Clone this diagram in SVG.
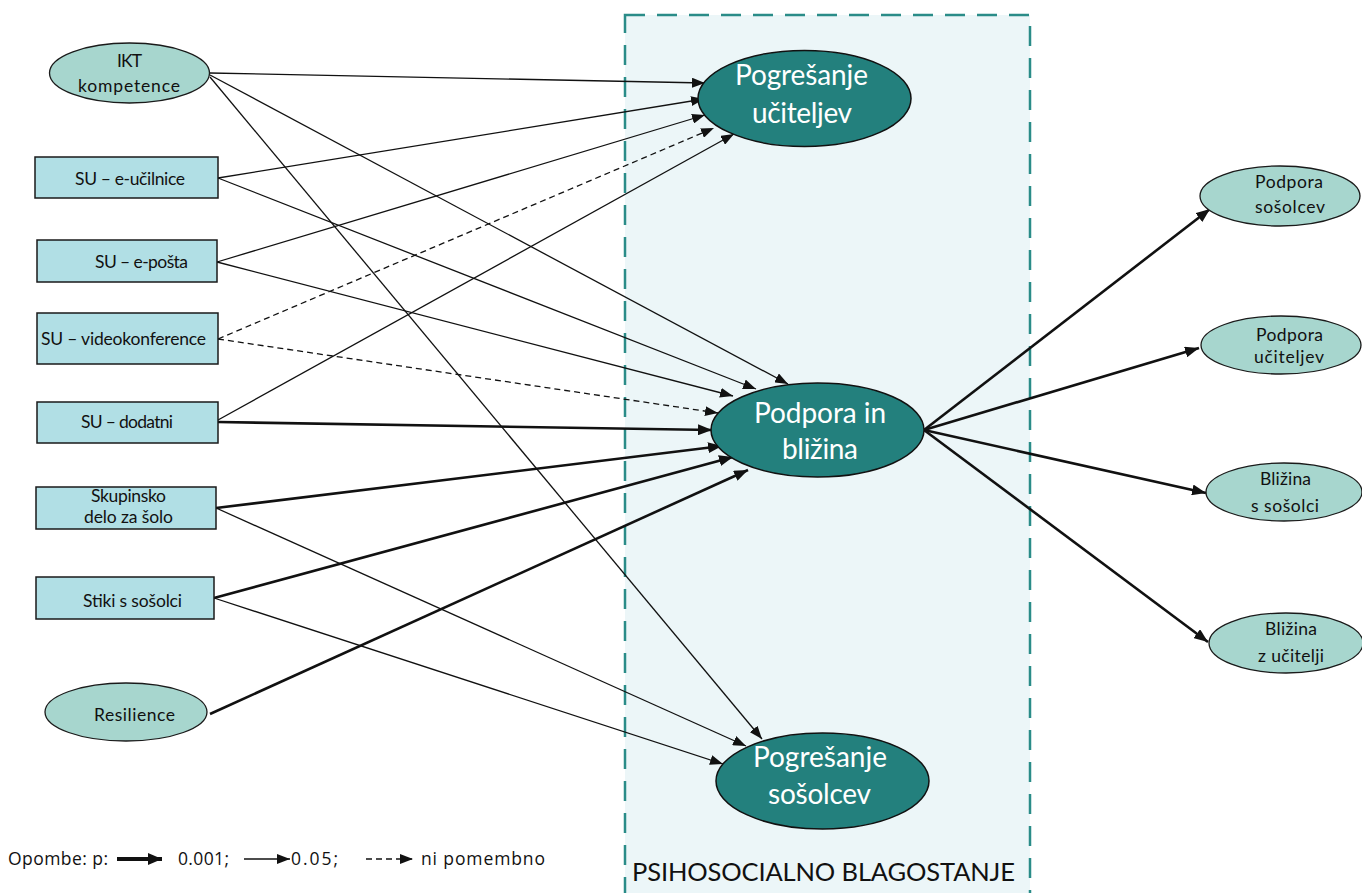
<svg xmlns="http://www.w3.org/2000/svg" width="1362" height="893" viewBox="0 0 1362 893">
<defs>
<style>
.bg{fill:#fff}
.cont{fill:#ECF6F8;stroke:#2A8C88;stroke-width:2.5;stroke-dasharray:20 12}
.lt{fill:#A7D6CE;stroke:#1a1a1a;stroke-width:1.3}
.bx{fill:#B1DFE5;stroke:#1a1a1a;stroke-width:1.5}
.dk{fill:#23807D;stroke:#111;stroke-width:1.5}
.t{font-family:Lato,"Open Sans",sans-serif;font-size:17.5px;fill:#111;text-anchor:middle}
.tw{font-family:Lato,"Open Sans",sans-serif;font-size:28px;fill:#fff;text-anchor:middle}
.tc{font-family:Lato,"Open Sans",sans-serif;font-size:25.5px;fill:#111}
.tl{font-family:"Open Sans","Liberation Sans",sans-serif;font-size:17.5px;fill:#111}
.thin{stroke:#111;stroke-width:1.3;fill:none;marker-end:url(#ah)}
.thick{stroke:#111;stroke-width:2.6;fill:none;marker-end:url(#ahb)}
.lthick{stroke:#111;stroke-width:4;fill:none;marker-end:url(#ahl)}
.dash{stroke:#111;stroke-width:1.3;fill:none;stroke-dasharray:6 4;marker-end:url(#ah)}
</style>
<marker id="ah" markerUnits="userSpaceOnUse" markerWidth="13" markerHeight="10" refX="13" refY="5" orient="auto"><path d="M0,0 L13,5 L0,10 z" fill="#111"/></marker>
<marker id="ahb" markerUnits="userSpaceOnUse" markerWidth="14" markerHeight="11" refX="14" refY="5.5" orient="auto"><path d="M0,0 L14,5.5 L0,11 z" fill="#111"/></marker>
<marker id="ahl" markerUnits="userSpaceOnUse" markerWidth="14" markerHeight="12" refX="14" refY="6" orient="auto"><path d="M0,0 L14,6 L0,12 z" fill="#111"/></marker>
</defs>
<rect class="bg" x="0" y="0" width="1362" height="893"/>
<g id="container">
<rect class="cont" x="625" y="15" width="405" height="900"/>
<text class="tc" x="632" y="881" textLength="383">PSIHOSOCIALNO BLAGOSTANJE</text>
</g>
<g id="connectors">
<line class="thin" x1="210" y1="73" x2="705" y2="83"/>
<line class="thin" x1="210" y1="75" x2="788" y2="384"/>
<line class="thin" x1="210" y1="77" x2="762" y2="739"/>
<line class="thin" x1="218" y1="178" x2="704" y2="99"/>
<line class="thin" x1="218" y1="178" x2="756" y2="389"/>
<line class="thin" x1="217" y1="262" x2="705" y2="115"/>
<line class="thin" x1="217" y1="262" x2="733" y2="396"/>
<line class="dash" x1="218" y1="339" x2="714" y2="128"/>
<line class="dash" x1="218" y1="339" x2="718" y2="413"/>
<line class="thin" x1="218" y1="420" x2="734" y2="134"/>
<line class="thick" x1="218" y1="422" x2="712" y2="430"/>
<line class="thick" x1="216" y1="508" x2="722" y2="446"/>
<line class="thin" x1="216" y1="508" x2="746" y2="746"/>
<line class="thick" x1="214" y1="598" x2="733" y2="457"/>
<line class="thin" x1="214" y1="598" x2="723" y2="764"/>
<line class="thick" x1="210" y1="714" x2="748" y2="470"/>
<line class="thick" x1="924" y1="430" x2="1210" y2="209"/>
<line class="thick" x1="924" y1="430" x2="1199" y2="348"/>
<line class="thick" x1="924" y1="430" x2="1206" y2="493"/>
<line class="thick" x1="924" y1="430" x2="1208" y2="642"/>
</g>
<g id="ikt"><ellipse class="lt" cx="129.5" cy="73" rx="80" ry="30"/><text class="t" x="129.5" y="67" textLength="25">IKT</text><text class="t" x="129" y="92" textLength="102">kompetence</text></g>
<g id="su-eucilnice"><rect class="bx" x="35" y="157" width="183" height="41"/><text class="t" x="130" y="185" textLength="110">SU – e-učilnice</text></g>
<g id="su-eposta"><rect class="bx" x="37" y="240" width="180" height="42"/><text class="t" x="141.5" y="268" textLength="93">SU – e-pošta</text></g>
<g id="su-video"><rect class="bx" x="37" y="313" width="181" height="51"/><text class="t" x="123.5" y="345" textLength="165">SU – videokonference</text></g>
<g id="su-dodatni"><rect class="bx" x="37" y="402" width="181" height="41"/><text class="t" x="127" y="428" textLength="92">SU – dodatni</text></g>
<g id="skupinsko"><rect class="bx" x="36" y="487" width="180" height="42"/><text class="t" x="128.5" y="502" textLength="75">Skupinsko</text><text class="t" x="128.5" y="523" textLength="89">delo za šolo</text></g>
<g id="stiki"><rect class="bx" x="36" y="577" width="178" height="42"/><text class="t" x="132.5" y="607" textLength="99">Stiki s sošolci</text></g>
<g id="resilience"><ellipse class="lt" cx="126" cy="712" rx="81" ry="29"/><text class="t" x="134.5" y="721" textLength="81">Resilience</text></g>
<g id="pogresanje-ucit"><ellipse class="dk" cx="804.5" cy="98.5" rx="106.5" ry="48"/><text class="tw" x="801.5" y="85" textLength="133">Pogrešanje</text><text class="tw" x="802" y="123" textLength="100">učiteljev</text></g>
<g id="podpora-blizina"><ellipse class="dk" cx="817.5" cy="430" rx="106.5" ry="47"/><text class="tw" x="820" y="423" textLength="132">Podpora in</text><text class="tw" x="820" y="459" textLength="76">bližina</text></g>
<g id="pogresanje-sos"><ellipse class="dk" cx="822.5" cy="781" rx="106.5" ry="48"/><text class="tw" x="820" y="767" textLength="134">Pogrešanje</text><text class="tw" x="819.5" y="804" textLength="103">sošolcev</text></g>
<g id="podpora-sos"><ellipse class="lt" cx="1280" cy="196" rx="80" ry="30"/><text class="t" x="1289" y="188" textLength="68">Podpora</text><text class="t" x="1290" y="213" textLength="70">sošolcev</text></g>
<g id="podpora-ucit"><ellipse class="lt" cx="1281" cy="345" rx="80" ry="29"/><text class="t" x="1289.5" y="341" textLength="67">Podpora</text><text class="t" x="1289" y="363" textLength="70">učiteljev</text></g>
<g id="blizina-sos"><ellipse class="lt" cx="1284" cy="492" rx="78" ry="29"/><text class="t" x="1285.5" y="485" textLength="51">Bližina</text><text class="t" x="1285" y="512" textLength="68">s sošolci</text></g>
<g id="blizina-ucit"><ellipse class="lt" cx="1286" cy="643" rx="77" ry="30"/><text class="t" x="1291" y="635" textLength="52">Bližina</text><text class="t" x="1291" y="662" textLength="66">z učitelji</text></g>
<g id="legend">
<text class="tl" x="8" y="865" textLength="100">Opombe: p:</text>
<line class="lthick" x1="117" y1="859" x2="162" y2="859"/>
<text class="tl" x="178" y="865" textLength="51">0.001;</text>
<line class="thin" x1="244" y1="859" x2="290" y2="859"/>
<text class="tl" x="291" y="865" textLength="47">0.05;</text>
<line class="dash" x1="366" y1="859" x2="413" y2="859"/>
<text class="tl" x="421" y="865" textLength="124">ni pomembno</text>
</g>
</svg>
